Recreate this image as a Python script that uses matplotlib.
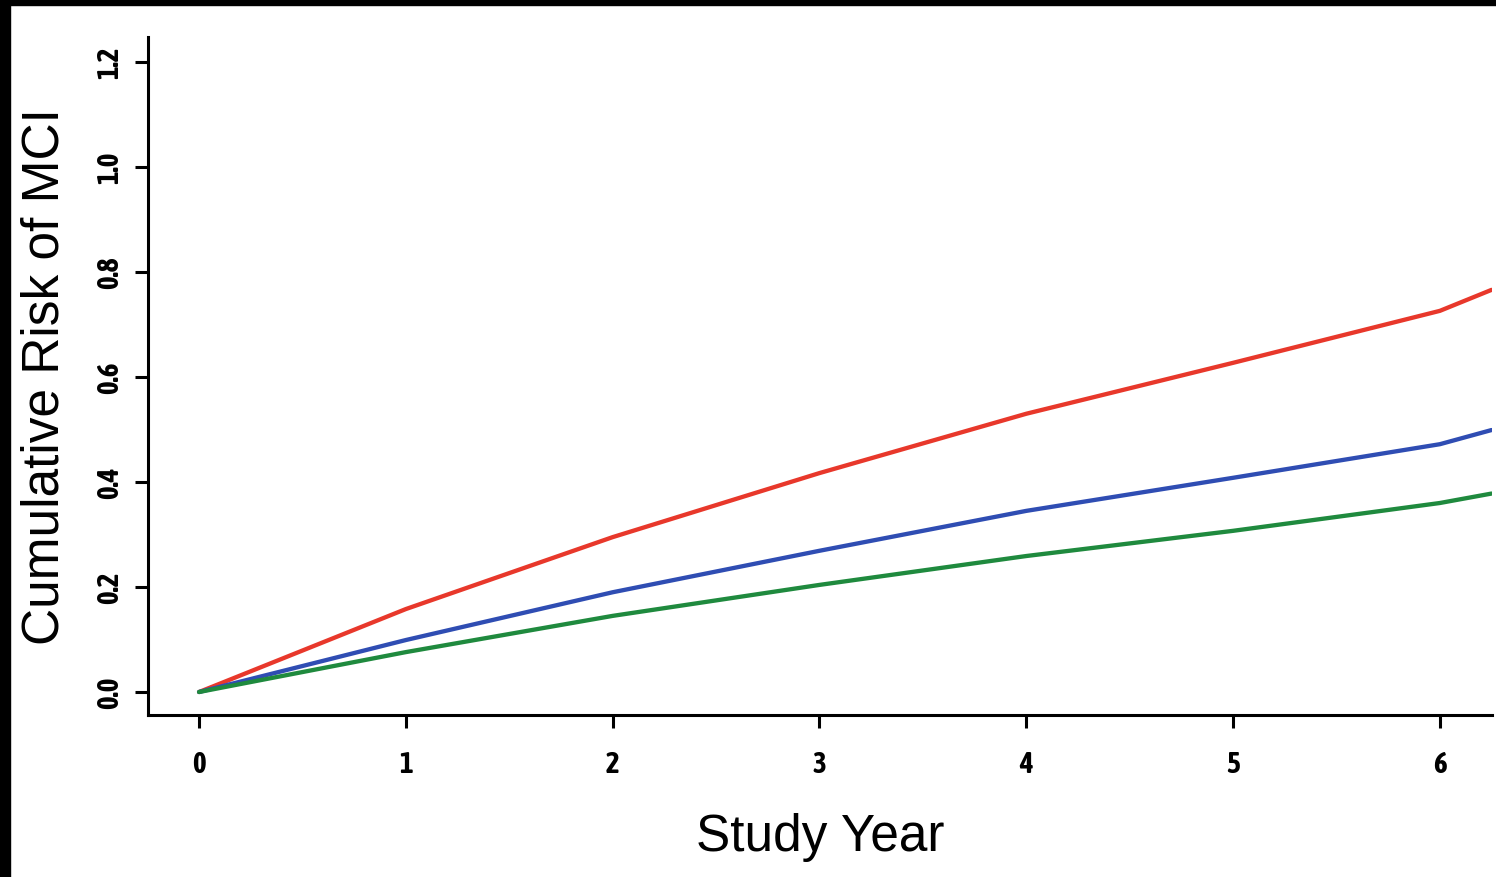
import matplotlib.pyplot as plt
from matplotlib.patches import Rectangle

# Values
years = [0, 1, 2, 3, 4, 5, 6, 6.25]
risk_red = [0.0, 0.158, 0.295, 0.417, 0.530, 0.627, 0.726, 0.766]
risk_blue = [0.0, 0.099, 0.190, 0.269, 0.345, 0.408, 0.472, 0.499]
risk_green = [0.0, 0.076, 0.145, 0.204, 0.259, 0.307, 0.360, 0.378]

xticks = [0, 1, 2, 3, 4, 5, 6]
yticks = [0.0, 0.2, 0.4, 0.6, 0.8, 1.0, 1.2]
ytick_labels = ['0.0', '0.2', '0.4', '0.6', '0.8', '1.0', '1.2']

fig = plt.figure(figsize=(14.96, 8.78), dpi=100)
fig.patch.set_facecolor('white')

# black frame strips at top and left of the scan
fig.patches.append(Rectangle((0, 1 - 6 / 878), 1, 6 / 878, transform=fig.transFigure,
                             color='black', zorder=10))
fig.patches.append(Rectangle((0, 0), 10 / 1496, 1, transform=fig.transFigure,
                             color='black', zorder=10))

ax = fig.add_axes([148 / 1496, 1 - 716 / 878, (1492 - 148) / 1496, (716 - 38) / 878])

ax.plot(years, risk_red, color='#e8382b', lw=3.1, solid_capstyle='round')
ax.plot(years, risk_blue, color='#2f4db3', lw=3.1, solid_capstyle='round')
ax.plot(years, risk_green, color='#1f8a3e', lw=3.1, solid_capstyle='round')

ax.set_xlim(-0.247, 6.252)
ax.set_ylim(-0.0438, 1.2476)

for side in ['top', 'right']:
    ax.spines[side].set_visible(False)
for side in ['left', 'bottom']:
    ax.spines[side].set_linewidth(2.2)

tick_font = dict(family=['Asap Condensed', 'Archivo Narrow', 'DejaVu Sans'], weight='bold', size=21)
ax.set_xticks(xticks)
ax.set_xticklabels([str(t) for t in xticks], **tick_font)
ax.set_yticks(yticks)
ax.set_yticklabels(ytick_labels, rotation=90, va='center', **tick_font)
ax.tick_params(axis='both', length=9.5, width=2.2, direction='out')
ax.tick_params(axis='x', pad=15)
ax.tick_params(axis='y', pad=8)

label_font = dict(family=['Liberation Sans', 'DejaVu Sans'], size=37)
ax.set_xlabel('Study Year', va='center', **label_font)
ax.xaxis.set_label_coords(0.5, (716 - 838) / 678)
ax.set_ylabel('Cumulative Risk of MCI', va='center', **label_font)
ax.yaxis.set_label_coords((45 - 148) / 1344, 0.5)

fig.savefig('out.png', dpi=100)
